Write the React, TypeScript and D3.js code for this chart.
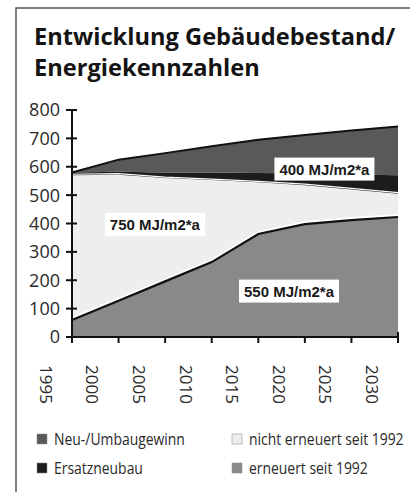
import React from 'react';
import * as d3 from 'd3';

// Jahre (x) und Flächen je Kategorie, von unten nach oben gestapelt
const years = [1995, 2000, 2005, 2010, 2015, 2020, 2025, 2030];
const erneuert = [60, 128, 196, 264, 363, 398, 412, 423];
const nichtErneuert = [510, 444, 364, 289, 182, 137, 108, 82];
const ersatzneubau = [10, 10, 20, 27, 33, 41, 53, 65];
const neuUmbau = [0, 43, 68, 92, 117, 136, 155, 172];

const yTicks = [0, 100, 200, 300, 400, 500, 600, 700, 800];
const xTicks = [1995, 2000, 2005, 2010, 2015, 2020, 2025, 2030];

const keys = ['erneuert', 'nicht', 'ersatz', 'neu'];
const colors: Record<string, string> = {
  erneuert: '#898989',
  nicht: '#eeeeee',
  ersatz: '#1c1c1c',
  neu: '#595959',
};

const legend = [
  { key: 'neu', label: 'Neu-/Umbaugewinn', col: 0, row: 0 },
  { key: 'ersatz', label: 'Ersatzneubau', col: 0, row: 1 },
  { key: 'nicht', label: 'nicht erneuert seit 1992', col: 1, row: 0 },
  { key: 'erneuert', label: 'erneuert seit 1992', col: 1, row: 1 },
];

// Beschriftungen im Diagramm: [Text, Jahr, Wert]
const labels: [string, number, number][] = [
  ['750 MJ/m2*a', 2003.9, 395],
  ['400 MJ/m2*a', 2022.1, 590],
  ['550 MJ/m2*a', 2018.3, 160],
];

export default function App() {
  const width = 416;
  const height = 492;
  const x = d3.scaleLinear().domain([1995, 2030]).range([72, 398]);
  const y = d3.scaleLinear().domain([0, 800]).range([337, 110]);

  const table = years.map((yr, i) => ({
    year: yr,
    erneuert: erneuert[i],
    nicht: nichtErneuert[i],
    ersatz: ersatzneubau[i],
    neu: neuUmbau[i],
  }));
  const series = d3.stack<any>().keys(keys)(table);

  const area = d3
    .area<any>()
    .x((d) => x(d.data.year))
    .y0((d) => y(d[0]))
    .y1((d) => y(d[1]));
  const topLine = d3
    .line<any>()
    .x((d) => x(d.data.year))
    .y((d) => y(d[1]));

  const font = "'Open Sans', 'DejaVu Sans', sans-serif";
  const labelFont = "'Liberation Sans', Arial, sans-serif";

  return (
    <svg
      width={width}
      height={height}
      style={{ position: 'absolute', left: 0, top: 0, background: '#fff' }}
    >
      {/* Rahmen */}
      <path d="M16,492 V8 H410" fill="none" stroke="#555" strokeWidth={1.5} />

      <g transform="translate(34,0) scale(0.985,1)" fontFamily={font} fontWeight={700} fontSize={24} fill="#141414">
        <text x={0} y={45}>Entwicklung Gebäudebestand/</text>
        <text x={0} y={76}>Energiekennzahlen</text>
      </g>

      {/* Flächen */}
      {series.map((s) => (
        <path key={s.key} d={area(s) || ''} fill={colors[s.key]} />
      ))}
      <path d={topLine(series[0]) || ''} transform="translate(0,-2)" fill="none" stroke="#fff" strokeWidth={2} />
      <path d={topLine(series[1]) || ''} transform="translate(0,-1)" fill="none" stroke="#fafafa" strokeWidth={1.2} />
      <path d={topLine(series[0]) || ''} fill="none" stroke="#111" strokeWidth={2.2} />
      <path d={topLine(series[3]) || ''} fill="none" stroke="#111" strokeWidth={2} />

      {/* Beschriftungen */}
      {labels.map(([t, yr, v]) => (
        <g key={t} transform={`translate(${x(yr)},${y(v)})`}>
          <rect x={-50} y={-12} width={100} height={23} fill="#fff" />
          <text textAnchor="middle" dy="0.36em" fontFamily={labelFont} fontWeight={700} fontSize={15} fill="#1a1a1a">
            {t}
          </text>
        </g>
      ))}

      {/* y-Achse */}
      <line x1={72} x2={72} y1={y(800)} y2={y(0)} stroke="#111" strokeWidth={2} />
      {yTicks.map((t) => (
        <g key={t} transform={`translate(0,${y(t)})`}>
          <line x1={66} x2={77} stroke="#111" strokeWidth={2} />
          <text x={60} textAnchor="end" dy="0.36em" fontFamily={font} fontSize={18} fill="#2a2a2a">
            {t}
          </text>
        </g>
      ))}

      {/* x-Achse */}
      <line x1={x(1995)} x2={x(2030)} y1={y(0)} y2={y(0)} stroke="#111" strokeWidth={2} />
      {xTicks.map((t) => (
        <g key={t} transform={`translate(${x(t)},${y(0)})`}>
          <line y1={t === 2030 ? -5 : 0} y2={6} stroke="#111" strokeWidth={2} />
          <text
            transform={`translate(-26,28) rotate(90)`}
            dy="0.36em"
            fontFamily={font}
            fontSize={17}
            fill="#2a2a2a"
          >
            {t}
          </text>
        </g>
      ))}

      {/* Legende */}
      {legend.map((l) => {
        const lx = l.col === 0 ? 37 : 232;
        const ly = 439 + l.row * 29;
        return (
          <g key={l.key} transform={`translate(${lx},${ly})`}>
            <rect x={0} y={-5} width={10} height={10} fill={colors[l.key]} stroke="#888" strokeWidth={0.5} />
            <text
              transform="translate(17,0) scale(0.87,1)"
              dy="0.36em"
              fontFamily={font}
              fontSize={16}
              fill="#2a2a2a"
            >
              {l.label}
            </text>
          </g>
        );
      })}
    </svg>
  );
}
